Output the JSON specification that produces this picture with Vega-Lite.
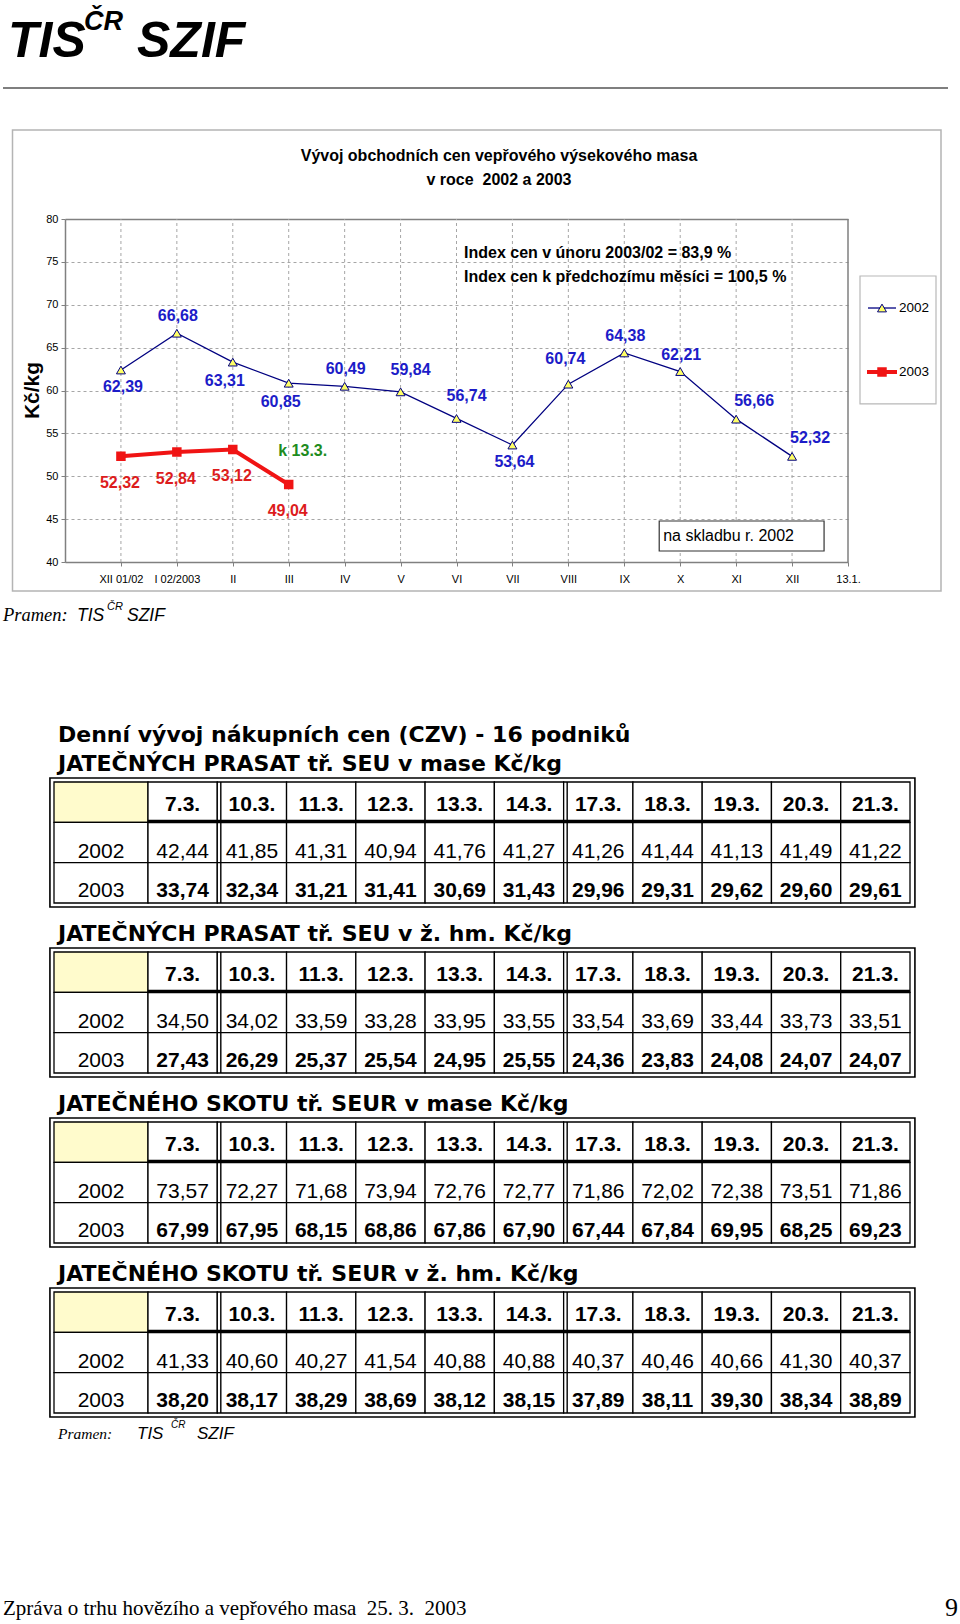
{
"$schema": "https://vega.github.io/schema/vega-lite/v6.json",
"width": 960,
"height": 1624,
"autosize": {"type": "none"},
"padding": 0,
"background": "white",
"config": {
 "view": {"stroke": null},
 "font": "Liberation Sans",
 "locale": {"number": {"decimal": ",", "thousands": "\u00a0", "grouping": [3], "currency": ["", "\u00a0Kč"]}},
 "axis": {"labelFont": "Liberation Sans", "titleFont": "Liberation Sans"}
},
"datasets": {
 "prices": [
  {"month": "XII 01/02", "year": "2002", "price": 62.39},
  {"month": "I 02/2003", "year": "2002", "price": 66.68},
  {"month": "II", "year": "2002", "price": 63.31},
  {"month": "III", "year": "2002", "price": 60.85},
  {"month": "IV", "year": "2002", "price": 60.49},
  {"month": "V", "year": "2002", "price": 59.84},
  {"month": "VI", "year": "2002", "price": 56.74},
  {"month": "VII", "year": "2002", "price": 53.64},
  {"month": "VIII", "year": "2002", "price": 60.74},
  {"month": "IX", "year": "2002", "price": 64.38},
  {"month": "X", "year": "2002", "price": 62.21},
  {"month": "XI", "year": "2002", "price": 56.66},
  {"month": "XII", "year": "2002", "price": 52.32},
  {"month": "XII 01/02", "year": "2003", "price": 52.32},
  {"month": "I 02/2003", "year": "2003", "price": 52.84},
  {"month": "II", "year": "2003", "price": 53.12},
  {"month": "III", "year": "2003", "price": 49.04}
 ],
 "months": [
  {"month": "XII 01/02"}, {"month": "I 02/2003"}, {"month": "II"}, {"month": "III"}, {"month": "IV"}, {"month": "V"}, {"month": "VI"},
  {"month": "VII"}, {"month": "VIII"}, {"month": "IX"}, {"month": "X"}, {"month": "XI"}, {"month": "XII"}, {"month": "13.1."}
 ],
 "headings": [
  {"table": "1", "heading": "JATEČNÝCH PRASAT tř. SEU v mase Kč/kg"},
  {"table": "2", "heading": "JATEČNÝCH PRASAT tř. SEU v ž. hm. Kč/kg"},
  {"table": "3", "heading": "JATEČNÉHO SKOTU tř. SEUR v mase Kč/kg"},
  {"table": "4", "heading": "JATEČNÉHO SKOTU tř. SEUR v ž. hm. Kč/kg"}
 ],
 "daily": [
  {"table": "1", "year": "2002", "day": "7.3.", "price": 42.44},
  {"table": "1", "year": "2002", "day": "10.3.", "price": 41.85},
  {"table": "1", "year": "2002", "day": "11.3.", "price": 41.31},
  {"table": "1", "year": "2002", "day": "12.3.", "price": 40.94},
  {"table": "1", "year": "2002", "day": "13.3.", "price": 41.76},
  {"table": "1", "year": "2002", "day": "14.3.", "price": 41.27},
  {"table": "1", "year": "2002", "day": "17.3.", "price": 41.26},
  {"table": "1", "year": "2002", "day": "18.3.", "price": 41.44},
  {"table": "1", "year": "2002", "day": "19.3.", "price": 41.13},
  {"table": "1", "year": "2002", "day": "20.3.", "price": 41.49},
  {"table": "1", "year": "2002", "day": "21.3.", "price": 41.22},
  {"table": "1", "year": "2003", "day": "7.3.", "price": 33.74},
  {"table": "1", "year": "2003", "day": "10.3.", "price": 32.34},
  {"table": "1", "year": "2003", "day": "11.3.", "price": 31.21},
  {"table": "1", "year": "2003", "day": "12.3.", "price": 31.41},
  {"table": "1", "year": "2003", "day": "13.3.", "price": 30.69},
  {"table": "1", "year": "2003", "day": "14.3.", "price": 31.43},
  {"table": "1", "year": "2003", "day": "17.3.", "price": 29.96},
  {"table": "1", "year": "2003", "day": "18.3.", "price": 29.31},
  {"table": "1", "year": "2003", "day": "19.3.", "price": 29.62},
  {"table": "1", "year": "2003", "day": "20.3.", "price": 29.60},
  {"table": "1", "year": "2003", "day": "21.3.", "price": 29.61},
  {"table": "2", "year": "2002", "day": "7.3.", "price": 34.50},
  {"table": "2", "year": "2002", "day": "10.3.", "price": 34.02},
  {"table": "2", "year": "2002", "day": "11.3.", "price": 33.59},
  {"table": "2", "year": "2002", "day": "12.3.", "price": 33.28},
  {"table": "2", "year": "2002", "day": "13.3.", "price": 33.95},
  {"table": "2", "year": "2002", "day": "14.3.", "price": 33.55},
  {"table": "2", "year": "2002", "day": "17.3.", "price": 33.54},
  {"table": "2", "year": "2002", "day": "18.3.", "price": 33.69},
  {"table": "2", "year": "2002", "day": "19.3.", "price": 33.44},
  {"table": "2", "year": "2002", "day": "20.3.", "price": 33.73},
  {"table": "2", "year": "2002", "day": "21.3.", "price": 33.51},
  {"table": "2", "year": "2003", "day": "7.3.", "price": 27.43},
  {"table": "2", "year": "2003", "day": "10.3.", "price": 26.29},
  {"table": "2", "year": "2003", "day": "11.3.", "price": 25.37},
  {"table": "2", "year": "2003", "day": "12.3.", "price": 25.54},
  {"table": "2", "year": "2003", "day": "13.3.", "price": 24.95},
  {"table": "2", "year": "2003", "day": "14.3.", "price": 25.55},
  {"table": "2", "year": "2003", "day": "17.3.", "price": 24.36},
  {"table": "2", "year": "2003", "day": "18.3.", "price": 23.83},
  {"table": "2", "year": "2003", "day": "19.3.", "price": 24.08},
  {"table": "2", "year": "2003", "day": "20.3.", "price": 24.07},
  {"table": "2", "year": "2003", "day": "21.3.", "price": 24.07},
  {"table": "3", "year": "2002", "day": "7.3.", "price": 73.57},
  {"table": "3", "year": "2002", "day": "10.3.", "price": 72.27},
  {"table": "3", "year": "2002", "day": "11.3.", "price": 71.68},
  {"table": "3", "year": "2002", "day": "12.3.", "price": 73.94},
  {"table": "3", "year": "2002", "day": "13.3.", "price": 72.76},
  {"table": "3", "year": "2002", "day": "14.3.", "price": 72.77},
  {"table": "3", "year": "2002", "day": "17.3.", "price": 71.86},
  {"table": "3", "year": "2002", "day": "18.3.", "price": 72.02},
  {"table": "3", "year": "2002", "day": "19.3.", "price": 72.38},
  {"table": "3", "year": "2002", "day": "20.3.", "price": 73.51},
  {"table": "3", "year": "2002", "day": "21.3.", "price": 71.86},
  {"table": "3", "year": "2003", "day": "7.3.", "price": 67.99},
  {"table": "3", "year": "2003", "day": "10.3.", "price": 67.95},
  {"table": "3", "year": "2003", "day": "11.3.", "price": 68.15},
  {"table": "3", "year": "2003", "day": "12.3.", "price": 68.86},
  {"table": "3", "year": "2003", "day": "13.3.", "price": 67.86},
  {"table": "3", "year": "2003", "day": "14.3.", "price": 67.90},
  {"table": "3", "year": "2003", "day": "17.3.", "price": 67.44},
  {"table": "3", "year": "2003", "day": "18.3.", "price": 67.84},
  {"table": "3", "year": "2003", "day": "19.3.", "price": 69.95},
  {"table": "3", "year": "2003", "day": "20.3.", "price": 68.25},
  {"table": "3", "year": "2003", "day": "21.3.", "price": 69.23},
  {"table": "4", "year": "2002", "day": "7.3.", "price": 41.33},
  {"table": "4", "year": "2002", "day": "10.3.", "price": 40.60},
  {"table": "4", "year": "2002", "day": "11.3.", "price": 40.27},
  {"table": "4", "year": "2002", "day": "12.3.", "price": 41.54},
  {"table": "4", "year": "2002", "day": "13.3.", "price": 40.88},
  {"table": "4", "year": "2002", "day": "14.3.", "price": 40.88},
  {"table": "4", "year": "2002", "day": "17.3.", "price": 40.37},
  {"table": "4", "year": "2002", "day": "18.3.", "price": 40.46},
  {"table": "4", "year": "2002", "day": "19.3.", "price": 40.66},
  {"table": "4", "year": "2002", "day": "20.3.", "price": 41.30},
  {"table": "4", "year": "2002", "day": "21.3.", "price": 40.37},
  {"table": "4", "year": "2003", "day": "7.3.", "price": 38.20},
  {"table": "4", "year": "2003", "day": "10.3.", "price": 38.17},
  {"table": "4", "year": "2003", "day": "11.3.", "price": 38.29},
  {"table": "4", "year": "2003", "day": "12.3.", "price": 38.69},
  {"table": "4", "year": "2003", "day": "13.3.", "price": 38.12},
  {"table": "4", "year": "2003", "day": "14.3.", "price": 38.15},
  {"table": "4", "year": "2003", "day": "17.3.", "price": 37.89},
  {"table": "4", "year": "2003", "day": "18.3.", "price": 38.11},
  {"table": "4", "year": "2003", "day": "19.3.", "price": 39.30},
  {"table": "4", "year": "2003", "day": "20.3.", "price": 38.34},
  {"table": "4", "year": "2003", "day": "21.3.", "price": 38.89}
 ]
},
"layer": [
 {
  "data": {"values": [{}]},
  "layer": [
   {"mark": {"type": "rect", "filled": false, "stroke": "#b4b4b4", "strokeWidth": 1.5},
    "encoding": {"x": {"value": 12.5}, "x2": {"value": 941}, "y": {"value": 130}, "y2": {"value": 591}}},
   {"mark": {"type": "rule", "stroke": "#555555", "strokeWidth": 1.5},
    "encoding": {"x": {"value": 3}, "x2": {"value": 948}, "y": {"value": 88}}},
   {"mark": {"type": "text", "text": "TIS", "fontSize": 50, "fontWeight": "bold", "fontStyle": "italic", "align": "left", "baseline": "alphabetic"},
    "encoding": {"x": {"value": 8}, "y": {"value": 57}}},
   {"mark": {"type": "text", "text": "ČR", "fontSize": 27, "fontWeight": "bold", "fontStyle": "italic", "align": "left", "baseline": "alphabetic"},
    "encoding": {"x": {"value": 84}, "y": {"value": 30}}},
   {"mark": {"type": "text", "text": "SZIF", "fontSize": 50, "fontWeight": "bold", "fontStyle": "italic", "align": "left", "baseline": "alphabetic"},
    "encoding": {"x": {"value": 137}, "y": {"value": 57}}},
   {"mark": {"type": "text", "text": "Pramen:", "font": "Liberation Serif", "fontSize": 18.5, "fontStyle": "italic", "align": "left", "baseline": "alphabetic"},
    "encoding": {"x": {"value": 3}, "y": {"value": 621}}},
   {"mark": {"type": "text", "text": "TIS", "fontSize": 17.5, "fontStyle": "italic", "align": "left", "baseline": "alphabetic"},
    "encoding": {"x": {"value": 77}, "y": {"value": 621}}},
   {"mark": {"type": "text", "text": "ČR", "fontSize": 11, "fontStyle": "italic", "align": "left", "baseline": "alphabetic"},
    "encoding": {"x": {"value": 107}, "y": {"value": 610}}},
   {"mark": {"type": "text", "text": "SZIF", "fontSize": 17.5, "fontStyle": "italic", "align": "left", "baseline": "alphabetic"},
    "encoding": {"x": {"value": 127}, "y": {"value": 621}}},
   {"mark": {"type": "text", "text": "Pramen:", "font": "Liberation Serif", "fontSize": 15.5, "fontStyle": "italic", "align": "left", "baseline": "alphabetic"},
    "encoding": {"x": {"value": 58}, "y": {"value": 1439}}},
   {"mark": {"type": "text", "text": "TIS", "fontSize": 17, "fontStyle": "italic", "align": "left", "baseline": "alphabetic"},
    "encoding": {"x": {"value": 137}, "y": {"value": 1439}}},
   {"mark": {"type": "text", "text": "ČR", "fontSize": 10, "fontStyle": "italic", "align": "left", "baseline": "alphabetic"},
    "encoding": {"x": {"value": 171}, "y": {"value": 1428}}},
   {"mark": {"type": "text", "text": "SZIF", "fontSize": 17, "fontStyle": "italic", "align": "left", "baseline": "alphabetic"},
    "encoding": {"x": {"value": 197}, "y": {"value": 1439}}},
   {"mark": {"type": "text", "text": "Zpráva o trhu hovězího a vepřového masa\u00a0 25. 3.\u00a0 2003", "font": "Liberation Serif", "fontSize": 21, "align": "left", "baseline": "alphabetic"},
    "encoding": {"x": {"value": 3}, "y": {"value": 1615}}},
   {"mark": {"type": "text", "text": "9", "font": "Liberation Serif", "fontSize": 26, "align": "right", "baseline": "alphabetic"},
    "encoding": {"x": {"value": 958}, "y": {"value": 1616}}}
  ]
 },
 {
  "layer": [
   {"data": {"name": "months"},
    "mark": {"type": "rule"},
    "encoding": {
     "x": {"field": "month", "type": "ordinal",
      "scale": {"type": "point", "domain": ["XII 01/02", "I 02/2003", "II", "III", "IV", "V", "VI", "VII", "VIII", "IX", "X", "XI", "XII", "13.1."], "range": [65, 848], "padding": 0.5, "align": 1},
      "axis": {"orient": "bottom", "offset": -1062, "title": null, "labelAngle": 0, "labelFontSize": 11, "labelColor": "black", "labelPadding": 7, "tickSize": 4, "tickColor": "#808080", "domainColor": "#808080", "domainWidth": 1.5, "grid": false, "labelOverlap": false, "labelBound": false, "labelFlush": false}},
     "y": {"datum": 40, "type": "quantitative",
      "scale": {"domain": [40, 80], "range": [562, 219], "zero": false, "nice": false},
      "axis": {"orient": "left", "offset": -65, "values": [40, 45, 50, 55, 60, 65, 70, 75, 80], "format": "d", "title": "Kč/kg", "titleFontSize": 21, "titleFontWeight": "bold", "titleColor": "black", "titleAngle": -90, "titleX": -33, "titleY": 390, "titleAlign": "center", "titleBaseline": "middle", "labelFontSize": 11, "labelColor": "black", "labelPadding": 3, "tickSize": 4, "tickColor": "#808080", "domainColor": "#808080", "domainWidth": 1.5, "grid": true,
       "gridColor": {"condition": {"test": "datum.value === 80", "value": "#808080"}, "value": "#a6a6a6"},
       "gridDash": {"condition": {"test": "datum.value === 80", "value": [1, 0]}, "value": [3, 3]},
       "gridWidth": {"condition": {"test": "datum.value === 80", "value": 1.5}, "value": 1}}},
     "y2": {"datum": 80},
     "strokeDash": {"condition": {"test": "datum.month === '13.1.'", "value": [1, 0]}, "value": [3, 3]},
     "color": {"condition": {"test": "datum.month === '13.1.'", "value": "#808080"}, "value": "#a6a6a6"},
     "strokeWidth": {"condition": {"test": "datum.month === '13.1.'", "value": 1.5}, "value": 1}
    }},
   {"data": {"name": "prices"}, "transform": [{"filter": "datum.year === '2002'"}],
    "mark": {"type": "line", "color": "#000080", "strokeWidth": 1.3},
    "encoding": {"x": {"field": "month", "type": "ordinal"}, "y": {"field": "price", "type": "quantitative"}, "order": {"value": null}}},
   {"data": {"name": "prices"}, "transform": [{"filter": "datum.year === '2003'"}],
    "mark": {"type": "line", "color": "#F01414", "strokeWidth": 4},
    "encoding": {"x": {"field": "month", "type": "ordinal"}, "y": {"field": "price", "type": "quantitative"}, "order": {"value": null}}},
   {"data": {"name": "prices"}, "transform": [{"filter": "datum.year === '2002'"}],
    "mark": {"type": "point", "shape": "triangle-up", "filled": true, "fill": "#FFFF66", "stroke": "#000080", "strokeWidth": 1, "size": 80, "opacity": 1},
    "encoding": {"x": {"field": "month", "type": "ordinal"}, "y": {"field": "price", "type": "quantitative"}}},
   {"data": {"name": "prices"}, "transform": [{"filter": "datum.year === '2003'"}],
    "mark": {"type": "point", "shape": "square", "filled": true, "fill": "#F01414", "stroke": "#F01414", "size": 56, "opacity": 1},
    "encoding": {"x": {"field": "month", "type": "ordinal"}, "y": {"field": "price", "type": "quantitative"}}},
   {"data": {"name": "prices"}, "transform": [{"filter": {"and": [{"field": "year", "equal": "2002"}, {"field": "month", "oneOf": ["XII 01/02", "VII"]}]}}],
    "mark": {"type": "text", "fontSize": 16, "fontWeight": "bold", "color": "#1C1CC8", "baseline": "middle", "dx": 2, "dy": 17},
    "encoding": {"x": {"field": "month", "type": "ordinal"}, "y": {"field": "price", "type": "quantitative"}, "text": {"field": "price", "type": "quantitative", "format": ".2f"}}},
   {"data": {"name": "prices"}, "transform": [{"filter": {"and": [{"field": "year", "equal": "2002"}, {"field": "month", "oneOf": ["II", "III"]}]}}],
    "mark": {"type": "text", "fontSize": 16, "fontWeight": "bold", "color": "#1C1CC8", "baseline": "middle", "dx": -8, "dy": 19},
    "encoding": {"x": {"field": "month", "type": "ordinal"}, "y": {"field": "price", "type": "quantitative"}, "text": {"field": "price", "type": "quantitative", "format": ".2f"}}},
   {"data": {"name": "prices"}, "transform": [{"filter": {"and": [{"field": "year", "equal": "2002"}, {"field": "month", "oneOf": ["I 02/2003", "IV", "IX", "X"]}]}}],
    "mark": {"type": "text", "fontSize": 16, "fontWeight": "bold", "color": "#1C1CC8", "baseline": "middle", "dx": 1, "dy": -17},
    "encoding": {"x": {"field": "month", "type": "ordinal"}, "y": {"field": "price", "type": "quantitative"}, "text": {"field": "price", "type": "quantitative", "format": ".2f"}}},
   {"data": {"name": "prices"}, "transform": [{"filter": {"and": [{"field": "year", "equal": "2002"}, {"field": "month", "oneOf": ["V", "VI"]}]}}],
    "mark": {"type": "text", "fontSize": 16, "fontWeight": "bold", "color": "#1C1CC8", "baseline": "middle", "dx": 10, "dy": -22},
    "encoding": {"x": {"field": "month", "type": "ordinal"}, "y": {"field": "price", "type": "quantitative"}, "text": {"field": "price", "type": "quantitative", "format": ".2f"}}},
   {"data": {"name": "prices"}, "transform": [{"filter": {"and": [{"field": "year", "equal": "2002"}, {"field": "month", "oneOf": ["VIII"]}]}}],
    "mark": {"type": "text", "fontSize": 16, "fontWeight": "bold", "color": "#1C1CC8", "baseline": "middle", "dx": -3, "dy": -25},
    "encoding": {"x": {"field": "month", "type": "ordinal"}, "y": {"field": "price", "type": "quantitative"}, "text": {"field": "price", "type": "quantitative", "format": ".2f"}}},
   {"data": {"name": "prices"}, "transform": [{"filter": {"and": [{"field": "year", "equal": "2002"}, {"field": "month", "oneOf": ["XI", "XII"]}]}}],
    "mark": {"type": "text", "fontSize": 16, "fontWeight": "bold", "color": "#1C1CC8", "baseline": "middle", "dx": 18, "dy": -18},
    "encoding": {"x": {"field": "month", "type": "ordinal"}, "y": {"field": "price", "type": "quantitative"}, "text": {"field": "price", "type": "quantitative", "format": ".2f"}}},
   {"data": {"name": "prices"}, "transform": [{"filter": "datum.year === '2003'"}],
    "mark": {"type": "text", "fontSize": 16, "fontWeight": "bold", "color": "#DD1C1C", "baseline": "middle", "dx": -1, "dy": 27},
    "encoding": {"x": {"field": "month", "type": "ordinal"}, "y": {"field": "price", "type": "quantitative"}, "text": {"field": "price", "type": "quantitative", "format": ".2f"}}},
   {"data": {"values": [{}]},
    "mark": {"type": "text", "text": "Vývoj obchodních cen vepřového výsekového masa", "fontSize": 16, "fontWeight": "bold", "align": "center", "baseline": "middle", "dx": 42.5},
    "encoding": {"x": {"datum": "VI", "type": "ordinal"}, "y": {"datum": 87.35, "type": "quantitative"}}},
   {"data": {"values": [{}]},
    "mark": {"type": "text", "text": "v roce\u00a0 2002 a 2003", "fontSize": 16, "fontWeight": "bold", "align": "center", "baseline": "middle", "dx": 42.5},
    "encoding": {"x": {"datum": "VI", "type": "ordinal"}, "y": {"datum": 84.55, "type": "quantitative"}}},
   {"data": {"values": [{}]},
    "mark": {"type": "text", "text": "Index cen v únoru 2003/02 = 83,9 %", "fontSize": 16, "fontWeight": "bold", "align": "left", "baseline": "middle", "dx": 7.5},
    "encoding": {"x": {"datum": "VI", "type": "ordinal"}, "y": {"datum": 76.03, "type": "quantitative"}}},
   {"data": {"values": [{}]},
    "mark": {"type": "text", "text": "Index cen k předchozímu měsíci = 100,5 %", "fontSize": 16, "fontWeight": "bold", "align": "left", "baseline": "middle", "dx": 7.5},
    "encoding": {"x": {"datum": "VI", "type": "ordinal"}, "y": {"datum": 73.24, "type": "quantitative"}}},
   {"data": {"values": [{}]},
    "mark": {"type": "text", "text": "k 13.3.", "fontSize": 16, "fontWeight": "bold", "color": "#1E8C1E", "align": "center", "baseline": "middle", "dx": 14},
    "encoding": {"x": {"datum": "III", "type": "ordinal"}, "y": {"datum": 52.94, "type": "quantitative"}}},
   {"data": {"values": [{}]},
    "mark": {"type": "rect", "fill": "white", "stroke": "#333333", "strokeWidth": 1.2, "xOffset": -21, "x2Offset": 32},
    "encoding": {"x": {"datum": "X", "type": "ordinal"}, "x2": {"datum": "XII"}, "y": {"datum": 44.78, "type": "quantitative"}, "y2": {"datum": 41.28}}},
   {"data": {"values": [{}]},
    "mark": {"type": "text", "text": "na skladbu r. 2002", "fontSize": 16, "align": "left", "baseline": "middle", "dx": -17},
    "encoding": {"x": {"datum": "X", "type": "ordinal"}, "y": {"datum": 43.03, "type": "quantitative"}}},
   {"data": {"values": [{}]},
    "mark": {"type": "rect", "fill": "white", "stroke": "#b8b8b8", "strokeWidth": 1.2, "xOffset": 12, "x2Offset": 88},
    "encoding": {"x": {"datum": "13.1.", "type": "ordinal"}, "x2": {"datum": "13.1."}, "y": {"datum": 73.35, "type": "quantitative"}, "y2": {"datum": 58.43}}},
   {"data": {"values": [{}]},
    "mark": {"type": "rule", "color": "#000080", "strokeWidth": 1.3, "xOffset": 20, "x2Offset": 48},
    "encoding": {"x": {"datum": "13.1.", "type": "ordinal"}, "x2": {"datum": "13.1."}, "y": {"datum": 69.62, "type": "quantitative"}}},
   {"data": {"values": [{}]},
    "mark": {"type": "point", "shape": "triangle-up", "filled": true, "fill": "#FFFF66", "stroke": "#000080", "strokeWidth": 1, "size": 80, "opacity": 1, "xOffset": 34},
    "encoding": {"x": {"datum": "13.1.", "type": "ordinal"}, "y": {"datum": 69.62, "type": "quantitative"}}},
   {"data": {"values": [{}]},
    "mark": {"type": "text", "text": "2002", "fontSize": 13.5, "align": "left", "baseline": "middle", "dx": 51},
    "encoding": {"x": {"datum": "13.1.", "type": "ordinal"}, "y": {"datum": 69.62, "type": "quantitative"}}},
   {"data": {"values": [{}]},
    "mark": {"type": "rule", "color": "#F01414", "strokeWidth": 4, "xOffset": 19, "x2Offset": 49},
    "encoding": {"x": {"datum": "13.1.", "type": "ordinal"}, "x2": {"datum": "13.1."}, "y": {"datum": 62.16, "type": "quantitative"}}},
   {"data": {"values": [{}]},
    "mark": {"type": "point", "shape": "square", "filled": true, "fill": "#F01414", "stroke": "#F01414", "size": 56, "opacity": 1, "xOffset": 34},
    "encoding": {"x": {"datum": "13.1.", "type": "ordinal"}, "y": {"datum": 62.16, "type": "quantitative"}}},
   {"data": {"values": [{}]},
    "mark": {"type": "text", "text": "2003", "fontSize": 13.5, "align": "left", "baseline": "middle", "dx": 51},
    "encoding": {"x": {"datum": "13.1.", "type": "ordinal"}, "y": {"datum": 62.16, "type": "quantitative"}}}
  ]
 },
 {
  "layer": [
   {
    "layer": [
     {"data": {"name": "daily"}, "transform": [{"filter": "datum.day === '7.3.' && datum.year === '2002'"}],
      "mark": {"type": "rect", "fill": "#FFFBCC", "stroke": "black", "strokeWidth": 1.3, "height": 40.33, "yOffset": -64.83},
      "encoding": {
       "x": {"field": "day", "type": "ordinal", "scale": {"type": "band", "domain": ["7.3."], "range": [54, 148], "paddingInner": 0, "paddingOuter": 0}, "axis": null},
       "y": {"field": "table", "type": "ordinal", "scale": {"type": "band", "domain": ["1", "2", "3", "4"], "range": [782, 1462], "paddingInner": 0, "paddingOuter": 0}, "axis": null}}},
     {"data": {"name": "daily"}, "transform": [{"filter": "datum.day === '7.3.' && datum.year === '2002'"}],
      "mark": {"type": "rect", "fill": "white", "stroke": "black", "strokeWidth": 1.3, "height": 40.33, "yOffset": -24.5},
      "encoding": {"x": {"field": "day", "type": "ordinal"}, "y": {"field": "table", "type": "ordinal"}}},
     {"data": {"name": "daily"}, "transform": [{"filter": "datum.day === '7.3.' && datum.year === '2003'"}],
      "mark": {"type": "rect", "fill": "white", "stroke": "black", "strokeWidth": 1.3, "height": 40.33, "yOffset": 15.83},
      "encoding": {"x": {"field": "day", "type": "ordinal"}, "y": {"field": "table", "type": "ordinal"}}},
     {"data": {"name": "daily"}, "transform": [{"filter": "datum.day === '7.3.' && datum.year === '2002'"}],
      "mark": {"type": "text", "fontSize": 21, "align": "center", "baseline": "alphabetic", "dy": -9},
      "encoding": {"x": {"field": "day", "type": "ordinal"}, "y": {"field": "table", "type": "ordinal"}, "text": {"field": "year", "type": "nominal"}}},
     {"data": {"name": "daily"}, "transform": [{"filter": "datum.day === '7.3.' && datum.year === '2003'"}],
      "mark": {"type": "text", "fontSize": 21, "align": "center", "baseline": "alphabetic", "dy": 30},
      "encoding": {"x": {"field": "day", "type": "ordinal"}, "y": {"field": "table", "type": "ordinal"}, "text": {"field": "year", "type": "nominal"}}},
     {"data": {"name": "headings"},
      "mark": {"type": "text", "font": "DejaVu Sans", "fontSize": 22, "fontWeight": "bold", "align": "left", "baseline": "alphabetic", "dx": -43, "dy": -96},
      "encoding": {"x": {"datum": "7.3.", "type": "ordinal"}, "y": {"field": "table", "type": "ordinal"}, "text": {"field": "heading", "type": "nominal"}}},
     {"data": {"values": [{}]},
      "mark": {"type": "text", "text": "Denní vývoj nákupních cen (CZV) - 16 podniků", "font": "DejaVu Sans", "fontSize": 22, "fontWeight": "bold", "align": "left", "baseline": "alphabetic", "dx": -43, "dy": -125},
      "encoding": {"x": {"datum": "7.3.", "type": "ordinal"}, "y": {"datum": "1", "type": "ordinal"}}}
    ]
   },
   {
    "layer": [
     {"data": {"name": "daily"}, "transform": [{"filter": "datum.year === '2002'"}],
      "mark": {"type": "rect", "fill": "white", "stroke": "black", "strokeWidth": 1.3, "height": 40.33, "yOffset": -64.83},
      "encoding": {
       "x": {"field": "day", "type": "ordinal", "scale": {"type": "band", "domain": ["7.3.", "10.3.", "11.3.", "12.3.", "13.3.", "14.3.", "17.3.", "18.3.", "19.3.", "20.3.", "21.3."], "range": [148, 910], "paddingInner": 0, "paddingOuter": 0}, "axis": null},
       "y": {"field": "table", "type": "ordinal", "scale": {"type": "band", "domain": ["1", "2", "3", "4"], "range": [782, 1462], "paddingInner": 0, "paddingOuter": 0}, "axis": null}}},
     {"data": {"name": "daily"}, "transform": [{"filter": "datum.year === '2002'"}],
      "mark": {"type": "rect", "fill": "white", "stroke": "black", "strokeWidth": 1.3, "height": 40.33, "yOffset": -24.5},
      "encoding": {"x": {"field": "day", "type": "ordinal"}, "y": {"field": "table", "type": "ordinal"}}},
     {"data": {"name": "daily"}, "transform": [{"filter": "datum.year === '2003'"}],
      "mark": {"type": "rect", "fill": "white", "stroke": "black", "strokeWidth": 1.3, "height": 40.33, "yOffset": 15.83},
      "encoding": {"x": {"field": "day", "type": "ordinal"}, "y": {"field": "table", "type": "ordinal"}}},
     {"data": {"name": "daily"}, "transform": [{"filter": "datum.year === '2002'"}],
      "mark": {"type": "rect", "fill": "black", "height": 3.5, "yOffset": -45.5},
      "encoding": {"x": {"field": "day", "type": "ordinal"}, "y": {"field": "table", "type": "ordinal"}}},
     {"data": {"name": "daily"}, "transform": [{"filter": "datum.year === '2002' && (datum.day === '10.3.' || datum.day === '17.3.')"}],
      "mark": {"type": "rect", "fill": "black", "width": 1.4, "xOffset": -31.1, "height": 121, "yOffset": -24.5},
      "encoding": {"x": {"field": "day", "type": "ordinal"}, "y": {"field": "table", "type": "ordinal"}}},
     {"data": {"name": "daily"}, "transform": [{"filter": "datum.year === '2002' && datum.day === '13.3.'"}],
      "mark": {"type": "rect", "filled": false, "stroke": "black", "strokeWidth": 1.6, "width": 865, "xOffset": 22.7, "height": 129, "yOffset": -24.5},
      "encoding": {"x": {"field": "day", "type": "ordinal"}, "y": {"field": "table", "type": "ordinal"}}},
     {"data": {"name": "daily"}, "transform": [{"filter": "datum.year === '2002'"}],
      "mark": {"type": "text", "fontSize": 21, "fontWeight": "bold", "align": "center", "baseline": "alphabetic", "dy": -56},
      "encoding": {"x": {"field": "day", "type": "ordinal"}, "y": {"field": "table", "type": "ordinal"}, "text": {"field": "day", "type": "nominal"}}},
     {"data": {"name": "daily"}, "transform": [{"filter": "datum.year === '2002'"}],
      "mark": {"type": "text", "fontSize": 21, "align": "center", "baseline": "alphabetic", "dy": -9},
      "encoding": {"x": {"field": "day", "type": "ordinal"}, "y": {"field": "table", "type": "ordinal"}, "text": {"field": "price", "type": "quantitative", "format": ".2f"}}},
     {"data": {"name": "daily"}, "transform": [{"filter": "datum.year === '2003'"}],
      "mark": {"type": "text", "fontSize": 21, "fontWeight": "bold", "align": "center", "baseline": "alphabetic", "dy": 30},
      "encoding": {"x": {"field": "day", "type": "ordinal"}, "y": {"field": "table", "type": "ordinal"}, "text": {"field": "price", "type": "quantitative", "format": ".2f"}}}
    ]
   }
  ],
  "resolve": {"scale": {"x": "independent"}}
 }
],
"resolve": {"scale": {"x": "independent", "y": "independent"}}
}
